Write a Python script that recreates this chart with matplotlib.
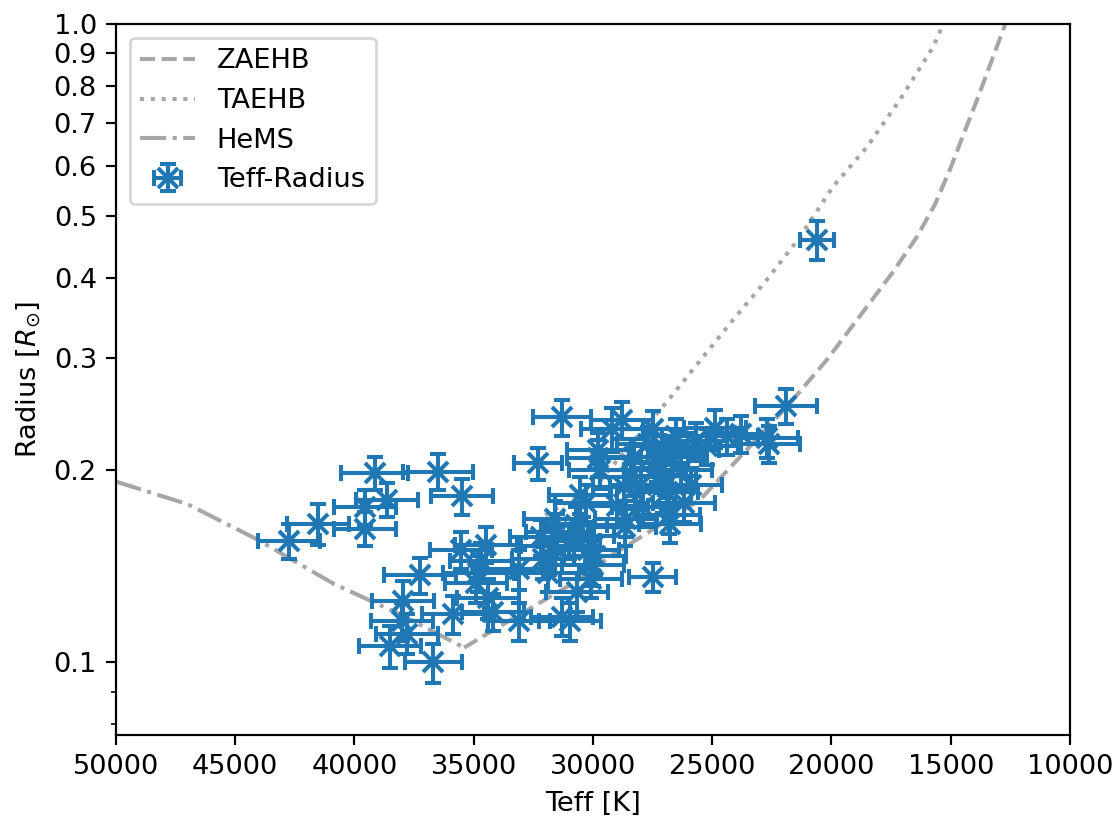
import matplotlib.pyplot as plt
from matplotlib.ticker import NullFormatter

# Model tracks (Teff in K, radius in solar radii)
hems_teff = [50000, 47000, 44100, 40900, 38100, 35400]
hems_rad = [0.192, 0.177, 0.156, 0.133, 0.119, 0.1055]

zaehb_teff = [35400, 33900, 30550, 29300, 25500, 21870, 20190, 18390, 17400, 16420,
              15660, 15030, 14490, 13900, 12730, 12500]
zaehb_rad = [0.1055, 0.114, 0.135, 0.1465, 0.180, 0.2515, 0.298, 0.366, 0.410, 0.464,
             0.522, 0.592, 0.668, 0.760, 0.996, 1.05]

taehb_teff = [32000, 31260, 29830, 28320, 26900, 25510, 24130, 22700, 21320,
              19940, 18510, 17130, 15740, 15320, 15100]
taehb_rad = [0.170, 0.1767, 0.190, 0.222, 0.256, 0.297, 0.344, 0.398, 0.464,
             0.556, 0.642, 0.761, 0.920, 1.0, 1.05]

# Measured stars
teff = [42750, 41550, 39550, 39550, 38650, 39150, 36500, 35500,
        37250, 37950, 38000, 38500, 37800, 36700, 35850, 35550, 34500, 34800,
        34900, 34400, 34200, 33100, 33100, 34700,
        32300, 31300, 31300, 30950, 27500, 30650, 31600, 31500, 31700, 32100,
        31900, 30200, 30000, 30100, 29900, 30400, 30700, 31000, 32200,
        30300, 29700, 29800, 29200, 28700, 29000, 28600, 28400, 28000, 28300,
        27700, 27500, 27300, 27100, 27000, 26900, 26800, 26700, 26500, 26300,
        26000, 25900, 26200, 25700, 25200, 24900, 24400, 23800, 22600, 22700,
        21900, 20600, 28800, 27900, 27400, 30550, 28660, 26770, 29800]
teff_err = [1300, 1300, 1300, 1300, 1300, 1400, 1450, 1300,
            1500, 1300, 1300, 1300, 1300, 1200, 1300, 1300, 1300, 1500,
            1300, 1300, 1300, 1300, 1500, 1300,
            1000, 1200, 1300, 1300, 1000, 1300, 1300, 1300, 1300, 1300,
            1300, 1300, 1300, 1300, 1300, 1300, 1300, 1300, 1300,
            1300, 1300, 1300, 1300, 1300, 1300, 1300, 1300, 1300, 1300,
            1300, 1300, 1300, 1300, 1300, 1300, 1300, 1300, 1300, 1300,
            1300, 1300, 1300, 1300, 1300, 1300, 1300, 1300, 1300, 1300,
            1300, 700, 1300, 1300, 1300, 1300, 1300, 1300, 1300]
radius = [0.155, 0.165, 0.162, 0.175, 0.180, 0.198, 0.199, 0.182,
          0.137, 0.125, 0.116, 0.106, 0.111, 0.100, 0.119, 0.150, 0.153, 0.138,
          0.133, 0.126, 0.120, 0.116, 0.140, 0.144,
          0.205, 0.242, 0.118, 0.116, 0.136, 0.129, 0.168, 0.160, 0.152, 0.145,
          0.138, 0.150, 0.142, 0.135, 0.147, 0.158, 0.164, 0.155, 0.157,
          0.178, 0.200, 0.215, 0.232, 0.188, 0.176, 0.168, 0.195, 0.190, 0.210,
          0.220, 0.232, 0.205, 0.218, 0.196, 0.185, 0.170, 0.210, 0.226, 0.200,
          0.215, 0.190, 0.178, 0.222, 0.218, 0.233, 0.226, 0.228, 0.220, 0.225,
          0.252, 0.459, 0.240, 0.175, 0.200, 0.183, 0.163, 0.165, 0.209]
radius_err = [0.010, 0.012, 0.010, 0.011, 0.011, 0.012, 0.013, 0.012,
              0.009, 0.009, 0.008, 0.008, 0.008, 0.007, 0.008, 0.010, 0.010, 0.009,
              0.009, 0.009, 0.008, 0.008, 0.010, 0.010,
              0.012, 0.016, 0.008, 0.008, 0.007, 0.009, 0.011, 0.011, 0.010, 0.010,
              0.009, 0.010, 0.010, 0.009, 0.010, 0.011, 0.011, 0.010, 0.010,
              0.012, 0.013, 0.014, 0.018, 0.012, 0.012, 0.011, 0.013, 0.012, 0.014,
              0.014, 0.016, 0.013, 0.014, 0.013, 0.012, 0.011, 0.014, 0.015, 0.013,
              0.014, 0.012, 0.012, 0.015, 0.014, 0.016, 0.015, 0.015, 0.015, 0.016,
              0.016, 0.032, 0.016, 0.012, 0.013, 0.012, 0.011, 0.011, 0.014]

yticks = [0.1, 0.2, 0.3, 0.4, 0.5, 0.6, 0.7, 0.8, 0.9, 1.0]
ytick_labels = ['0.1', '0.2', '0.3', '0.4', '0.5', '0.6', '0.7', '0.8', '0.9', '1.0']
xticks = [50000, 45000, 40000, 35000, 30000, 25000, 20000, 15000, 10000]

DPI = 196
fig = plt.figure(figsize=(1114 / DPI, 816 / DPI), dpi=DPI)
ax = fig.add_axes([0.1041, 0.0993, 0.8564, 0.8713])

ax.plot(zaehb_teff, zaehb_rad, '--', color='grey', alpha=0.7, label='ZAEHB')
ax.plot(taehb_teff, taehb_rad, ':', color='grey', alpha=0.7, label='TAEHB')
ax.plot(hems_teff, hems_rad, '-.', color='grey', alpha=0.7, label='HeMS')
ax.errorbar(teff, radius, xerr=teff_err, yerr=radius_err, fmt='x',
            color='#1f77b4', markersize=7, markeredgewidth=1.5,
            capsize=3, capthick=1.5, label='Teff-Radius')

ax.set_yscale('log')
ax.set_yticks(yticks)
ax.set_yticklabels(ytick_labels)
ax.yaxis.set_minor_formatter(NullFormatter())
ax.set_xticks(xticks)
ax.set_xlim(50000, 10000)
ax.set_ylim(0.077, 1.0)

ax.set_xlabel('Teff [K]')
ax.set_ylabel(r'Radius [$R_{\odot}$]')
ax.legend(loc='upper left')

fig.savefig('out.png', dpi=DPI)
